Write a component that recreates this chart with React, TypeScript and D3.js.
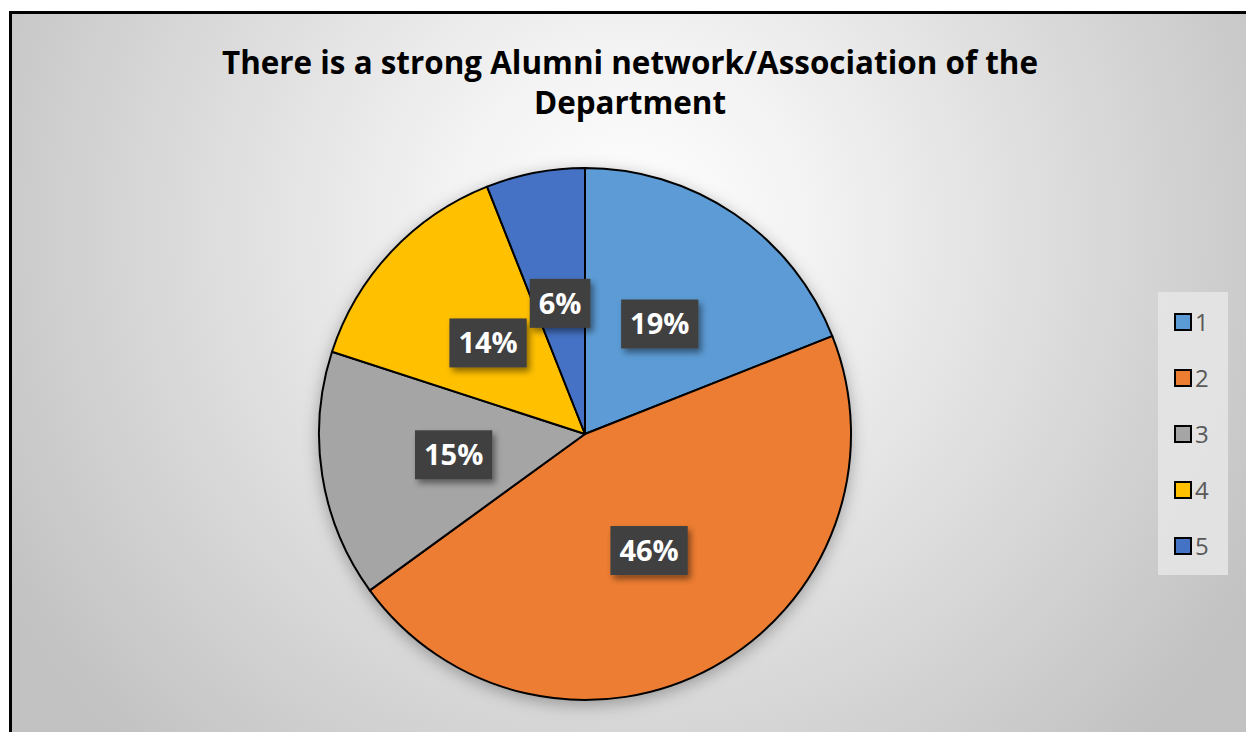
import React, { useRef, useEffect } from 'react';
import * as d3 from 'd3';

const categories = ['1', '2', '3', '4', '5'];
const values = [19, 46, 15, 14, 6];
const sliceColors = ['#5B9BD5', '#ED7D31', '#A5A5A5', '#FFC000', '#4472C4'];
const titleLines = ['There is a strong Alumni network/Association of the', 'Department'];

const width = 1246;
const height = 732;

const chartStyle = {
  cx: 585,
  cy: 434,
  radius: 266,
  titleX: 630,
  titleY: 74,
  titleLineHeight: 40,
  font: '"Open Sans", Lato, sans-serif',
  titleFontSize: 31.4,
  labelFontSize: 29,
  legend: { x: 1158, y: 292, w: 70, h: 283, itemY: 322, step: 56 },
};

const App: React.FC = () => {
  const svgRef = useRef<SVGSVGElement>(null);

  useEffect(() => {
    if (!svgRef.current) return;
    const svg = d3.select(svgRef.current);
    svg.selectAll('*').remove();

    const defs = svg.append('defs');
    const grad = defs.append('radialGradient')
      .attr('id', 'bg')
      .attr('gradientUnits', 'userSpaceOnUse')
      .attr('cx', 630).attr('cy', 230).attr('r', 720);
    grad.append('stop').attr('offset', 0).attr('stop-color', '#ffffff');
    grad.append('stop').attr('offset', 0.25).attr('stop-color', '#f3f3f3');
    grad.append('stop').attr('offset', 1).attr('stop-color', '#c2c2c2');

    const pieShadow = defs.append('filter').attr('id', 'pieShadow')
      .attr('x', '-20%').attr('y', '-20%').attr('width', '140%').attr('height', '140%');
    pieShadow.append('feDropShadow')
      .attr('dx', 0).attr('dy', 4).attr('stdDeviation', 8)
      .attr('flood-color', '#000').attr('flood-opacity', 0.3);

    const labelShadow = defs.append('filter').attr('id', 'labelShadow')
      .attr('x', '-30%').attr('y', '-30%').attr('width', '160%').attr('height', '170%');
    labelShadow.append('feDropShadow')
      .attr('dx', 3).attr('dy', 4).attr('stdDeviation', 3)
      .attr('flood-color', '#000').attr('flood-opacity', 0.45);

    // background + frame
    svg.append('rect')
      .attr('x', 0).attr('y', 0).attr('width', width).attr('height', height)
      .attr('fill', '#fff');
    svg.append('rect')
      .attr('x', 10.5).attr('y', 12.5).attr('width', width + 40).attr('height', height + 40)
      .attr('fill', 'url(#bg)')
      .attr('stroke', '#000').attr('stroke-width', 3);

    // title
    const title = svg.append('text')
      .attr('text-anchor', 'middle')
      .attr('font-family', chartStyle.font)
      .attr('font-weight', 'bold')
      .attr('font-size', chartStyle.titleFontSize)
      .attr('fill', '#000');
    titleLines.forEach((line, i) => {
      title.append('tspan')
        .attr('x', chartStyle.titleX)
        .attr('y', chartStyle.titleY + i * chartStyle.titleLineHeight)
        .text(line);
    });

    // pie
    const pie = d3.pie<number>().sort(null).value(d => d);
    const arcs = pie(values);
    const arc = d3.arc<d3.PieArcDatum<number>>()
      .innerRadius(0)
      .outerRadius(chartStyle.radius);

    const g = svg.append('g')
      .attr('transform', `translate(${chartStyle.cx},${chartStyle.cy})`);

    g.append('g')
      .attr('filter', 'url(#pieShadow)')
      .selectAll('path')
      .data(arcs)
      .join('path')
      .attr('d', arc)
      .attr('fill', (_, i) => sliceColors[i])
      .attr('stroke', '#000')
      .attr('stroke-width', 2)
      .attr('stroke-linejoin', 'round');

    // data labels
    const labels = g.append('g')
      .selectAll('g')
      .data(arcs)
      .join('g')
      .attr('transform', d => {
        const [x, y] = arc.centroid(d);
        return `translate(${x},${y})`;
      });

    labels.each(function (d) {
      const lg = d3.select(this);
      const box = lg.append('rect').attr('fill', '#404040').attr('filter', 'url(#labelShadow)');
      const t = lg.append('text')
        .attr('text-anchor', 'middle')
        .attr('dy', '0.36em')
        .attr('font-family', chartStyle.font)
        .attr('font-weight', 'bold')
        .attr('font-size', chartStyle.labelFontSize)
        .attr('fill', '#fff')
        .text(`${d.data}%`);
      const tw = (t.node() as SVGTextElement).getComputedTextLength();
      const bw = tw + 18;
      const bh = 49;
      box.attr('x', -bw / 2).attr('y', -bh / 2).attr('width', bw).attr('height', bh);
    });

    // legend
    const L = chartStyle.legend;
    const legend = svg.append('g');
    legend.append('rect')
      .attr('x', L.x).attr('y', L.y).attr('width', L.w).attr('height', L.h)
      .attr('fill', '#e6e6e6').attr('fill-opacity', 0.85);
    const items = legend.selectAll('g.item')
      .data(categories)
      .join('g')
      .attr('class', 'item')
      .attr('transform', (_, i) => `translate(${L.x + 17},${L.itemY + i * L.step})`);
    items.append('rect')
      .attr('x', 0).attr('y', -8).attr('width', 16).attr('height', 16)
      .attr('fill', (_, i) => sliceColors[i])
      .attr('stroke', '#000').attr('stroke-width', 2);
    items.append('text')
      .attr('x', 20).attr('y', 0).attr('dy', '0.36em')
      .attr('font-family', chartStyle.font)
      .attr('font-size', 24)
      .attr('fill', '#595959')
      .text(d => d);
  }, []);

  return (
    <svg
      ref={svgRef}
      width={width}
      height={height}
      style={{ position: 'absolute', left: 0, top: 0 }}
    />
  );
};

export default App;
